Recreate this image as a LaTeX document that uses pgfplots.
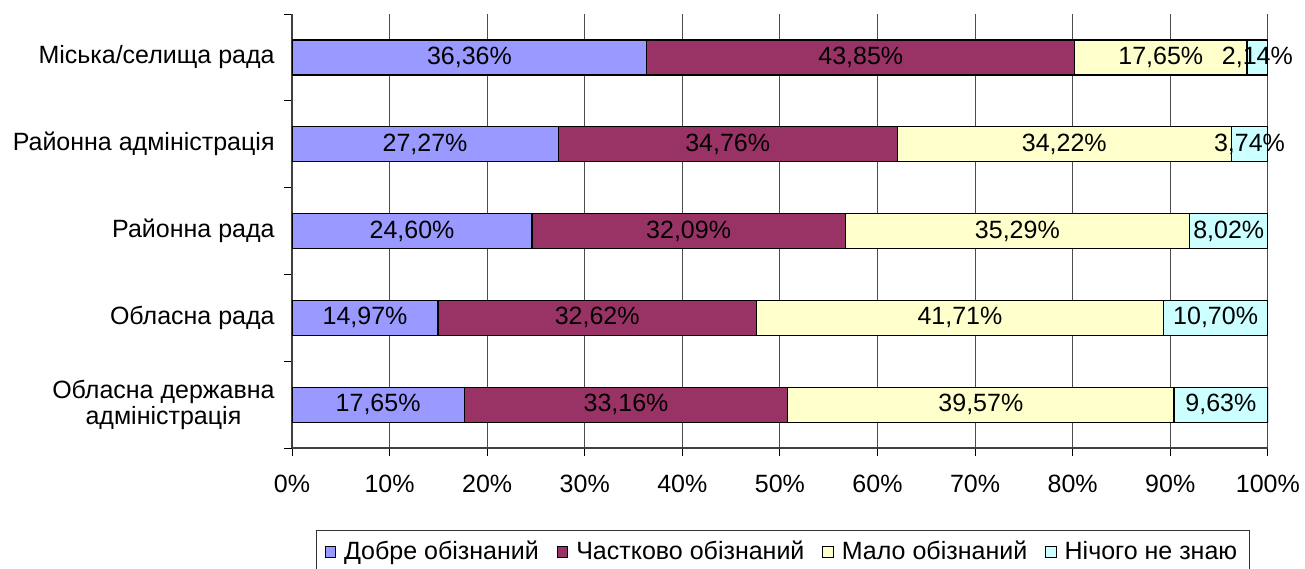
\documentclass[border=0pt]{standalone}
\usepackage{fontspec}
\setmainfont{Liberation Sans}
\usepackage{pgfplots}
\usepackage{pgfplotstable}
\pgfplotsset{compat=1.18}
\definecolor{cA}{HTML}{9999FF}
\definecolor{cB}{HTML}{993366}
\definecolor{cC}{HTML}{FFFFCC}
\definecolor{cD}{HTML}{CCFFFF}
\pgfplotstableread{
y a b c d
0 17.65 33.16 39.57 9.63
1 14.97 32.62 41.71 10.70
2 24.60 32.09 35.29 8.02
3 27.27 34.76 34.22 3.74
4 36.36 43.85 17.65 2.14
}\datatable
\begin{document}
\begin{tikzpicture}[font=\fontsize{12.5pt}{13pt}\selectfont]
\useasboundingbox (0,0) rectangle (652.5pt,284pt);
\begin{axis}[
  at={(146pt,60pt)}, anchor=south west,
  scale only axis, width=488pt, height=217pt,
  xbar stacked, bar width=17.5pt,
  xmin=0, xmax=100.02, ymin=-0.5, ymax=4.5,
  axis x line*=bottom, axis y line*=left,
  axis line style={black!75, line width=0.7pt},
  xtick={0,10,...,100},
  xticklabels={0\%,10\%,20\%,30\%,40\%,50\%,60\%,70\%,80\%,90\%,100\%},
  xtick align=outside, ytick align=outside,
  xmajorgrids, major grid style={black!70, line width=0.5pt},
  major tick length=4pt,
  tick style={black, line width=0.5pt},
  ytick={-0.5,0.5,1.5,2.5,3.5,4.5}, yticklabels={},
  extra y ticks={0,1,2,3,4},
  extra y tick labels={{Обласна державна\\адміністрація},Обласна рада,Районна рада,Районна адміністрація,Міська/селища рада},
  extra y tick style={major tick length=0pt, grid=none,
    yticklabel style={inner sep=0pt, xshift=-8.5pt, align=center, font=\fontsize{12.5pt}{13pt}\selectfont}},
  xticklabel style={inner sep=0pt, anchor=north, yshift=-9.5pt},
  point meta=explicit,
  nodes near coords={\pgfmathprintnumber[fixed,fixed zerofill,precision=2,use comma,assume math mode=true]{\pgfplotspointmeta}\%},
  every node near coord/.append style={anchor=center, black, inner sep=0pt,
    font=\fontsize{12.5pt}{13pt}\selectfont},
  legend style={at={(0.503,-0.19)}, anchor=north, legend columns=-1,
    draw=black!80, line width=0.5pt, font=\fontsize{12.5pt}{13pt}\selectfont,
    inner xsep=4pt, inner ysep=3pt,
    /tikz/every odd column/.append style={column sep=2pt},
    /tikz/every even column/.append style={column sep=7pt}},
  mylegend/.style={legend image code/.code={\draw[##1, draw=black, line width=0.5pt] (0pt,-2.7pt) rectangle (5.2pt,2.7pt);}},
]
\addplot[fill=cA, draw=black, line width=0.6pt, mylegend] table[x=a, y=y, meta=a] {\datatable};
\addlegendentry{Добре обізнаний}
\addplot[fill=cB, draw=black, line width=0.6pt, mylegend] table[x=b, y=y, meta=b] {\datatable};
\addlegendentry{Частково обізнаний}
\addplot[fill=cC, draw=black, line width=0.6pt, mylegend] table[x=c, y=y, meta=c] {\datatable};
\addlegendentry{Мало обізнаний}
\addplot[fill=cD, draw=black, line width=0.6pt, mylegend] table[x=d, y=y, meta=d] {\datatable};
\addlegendentry{Нічого не знаю}
\end{axis}
\end{tikzpicture}
\end{document}
